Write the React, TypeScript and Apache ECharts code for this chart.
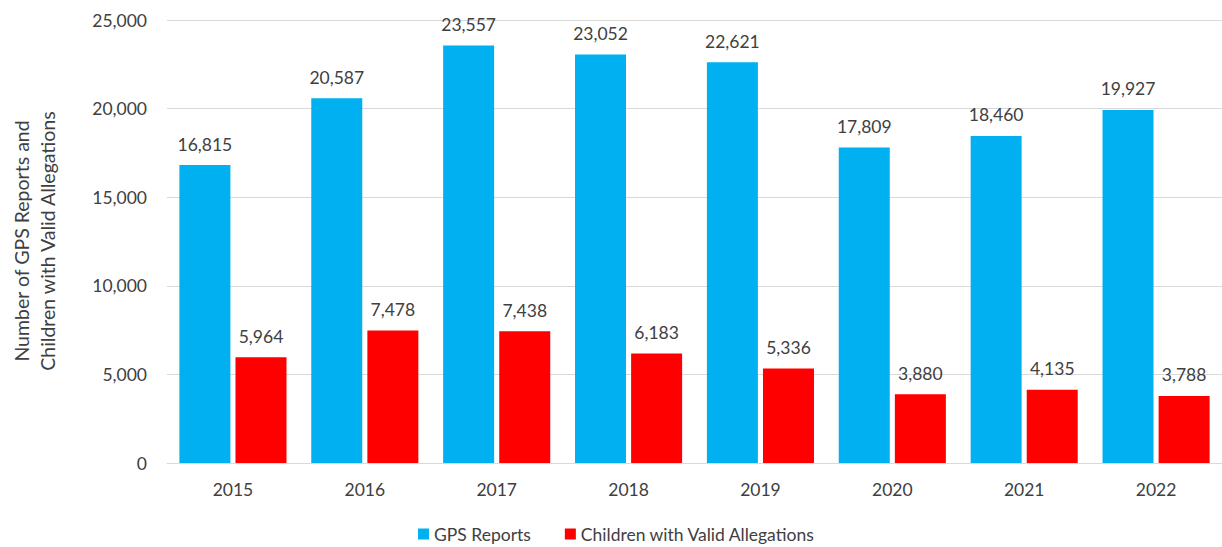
import React, { useEffect, useRef } from "react";
import * as echarts from "echarts";

const years = ["2015", "2016", "2017", "2018", "2019", "2020", "2021", "2022"];
const gpsReports = [16815, 20587, 23557, 23052, 22621, 17809, 18460, 19927];
const childrenValid = [5964, 7478, 7438, 6183, 5336, 3880, 4135, 3788];
const yTicks = { min: 0, max: 25000, interval: 5000 };

const FONT = "Lato, 'Open Sans', sans-serif";
const TXT = "#404040";

export default function App() {
  const ref = useRef<HTMLDivElement>(null);
  useEffect(() => {
    if (!ref.current) return;
    const chart = echarts.init(ref.current, null, { renderer: "svg" });
    const fmt = (v: number) => v.toLocaleString("en-US");
    chart.setOption({
      animation: false,
      backgroundColor: "#ffffff",
      textStyle: { fontFamily: FONT },
      grid: { left: 167, right: -1, top: 20, bottom: 84, containLabel: false },
      legend: {
        left: 413,
        top: 520,
        itemWidth: 11,
        itemHeight: 11,
        itemGap: 34,
        icon: "rect",
        textStyle: { fontFamily: FONT, fontSize: 17.5, color: TXT },
        data: ["GPS Reports", "Children with Valid Allegations"],
      },
      xAxis: {
        type: "category",
        data: years,
        axisTick: { show: false },
        axisLine: { lineStyle: { color: "#d9d9d9", width: 1 } },
        axisLabel: { color: TXT, fontSize: 17.5, fontFamily: FONT, margin: 17 },
      },
      yAxis: {
        type: "value",
        min: yTicks.min,
        max: yTicks.max,
        interval: yTicks.interval,
        axisLine: { show: false },
        axisTick: { show: false },
        splitLine: { lineStyle: { color: "#d9d9d9", width: 1 } },
        axisLabel: { color: TXT, fontSize: 17.5, fontFamily: FONT, margin: 20, formatter: (v: number) => fmt(v) },
      },
      graphic: [
        {
          type: "text",
          x: 34,
          y: 241,
          rotation: Math.PI / 2,
          style: {
            text: "Number of GPS Reports and\nChildren with Valid Allegations",
            fontFamily: FONT,
            fontSize: 19.5,
            lineHeight: 26,
            fill: TXT,
            textAlign: "center",
            textVerticalAlign: "middle",
          },
        },
      ],
      series: [
        {
          name: "GPS Reports",
          type: "bar",
          data: gpsReports,
          barWidth: 51,
          barGap: "10%",
          itemStyle: { color: "#00B0F0" },
          label: { show: true, position: "top", distance: 12, color: TXT, fontSize: 17.5, fontFamily: FONT, formatter: (p: any) => fmt(p.value) },
        },
        {
          name: "Children with Valid Allegations",
          type: "bar",
          data: childrenValid,
          barWidth: 51,
          barGap: "10%",
          itemStyle: { color: "#FF0000" },
          label: { show: true, position: "top", distance: 12, color: TXT, fontSize: 17.5, fontFamily: FONT, formatter: (p: any) => fmt(p.value) },
        },
      ],
    });
    return () => chart.dispose();
  }, []);
  return (
    <div
      ref={ref}
      style={{ position: "fixed", left: 0, top: 0, width: 1222, height: 547, background: "#fff" }}
    />
  );
}
